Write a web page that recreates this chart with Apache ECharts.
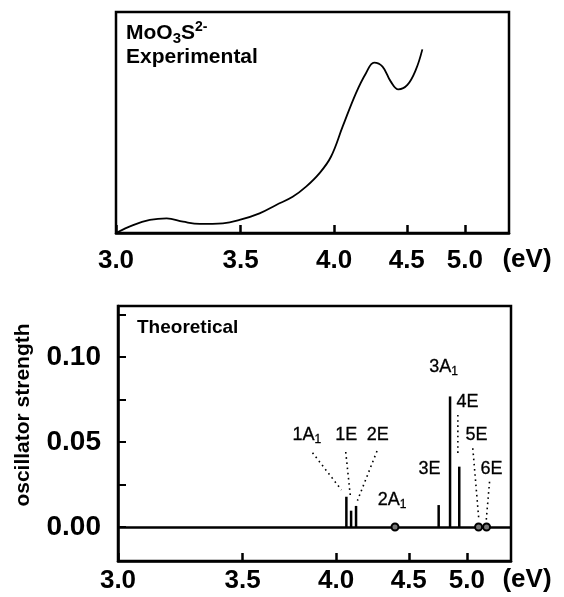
<!DOCTYPE html>
<html>
<head>
<meta charset="utf-8">
<script src="https://cdn.jsdelivr.net/npm/echarts@6/dist/echarts.min.js"></script>
<style>
  html, body { margin: 0; padding: 0; background: #fff; }
  #chart { width: 564px; height: 597px; }
</style>
</head>
<body>
<div id="chart"></div>
<script>
// ---- data ----
const HC = 1240; // eV*nm, the axis is linear in wavelength
const tickEV = [3.0, 3.5, 4.0, 4.5, 5.0];
const axisEV = [3.0, 5.46];

// experimental absorption (arbitrary units)
const expEV  = [3.000, 3.060, 3.121, 3.185, 3.250, 3.319, 3.419, 3.495, 3.591, 3.675, 3.762, 3.836,
                3.912, 3.981, 4.053, 4.138, 4.205, 4.261, 4.320, 4.380, 4.436, 4.505, 4.571, 4.624];
const expAbs = [0.000, 0.036, 0.059, 0.066, 0.051, 0.041, 0.044, 0.059, 0.089, 0.127, 0.164, 0.210,
                0.270, 0.345, 0.481, 0.632, 0.723, 0.771, 0.753, 0.685, 0.650, 0.670, 0.738, 0.831];

// theoretical oscillator strengths
const stickNames = ['1A₁', '1E', '2E', '3E', '3A₁', '4E'];
const stickEV    = [4.064, 4.094, 4.126, 4.744, 4.844, 4.928];
const stickF     = [0.0178, 0.0096, 0.0124, 0.0129, 0.0768, 0.0355];
const darkNames  = ['2A₁', '5E', '6E'];
const darkEV     = [4.396, 5.114, 5.195];
const darkF      = [0, 0, 0];

// state labels (anchor in eV / oscillator-strength units)
const labelText = ['1A₁', '1E', '2E', '2A₁', '3E', '3A₁', '4E', '5E', '6E'];
const labelEV   = [3.829, 4.064, 4.272, 4.375, 4.667, 4.787, 5.006, 5.094, 5.247];
const labelF    = [0.0541, 0.0541, 0.0541, 0.0159, 0.0341, 0.0941, 0.0735, 0.0541, 0.0341];

// dotted leader lines
const leaderFromEV = [3.861, 4.060, 4.267, 4.915, 5.057, 5.226];
const leaderFromF  = [0.0437, 0.0441, 0.0447, 0.0659, 0.0463, 0.0266];
const leaderToEV   = [4.033, 4.090, 4.135, 4.915, 5.117, 5.192];
const leaderToF    = [0.0218, 0.0176, 0.0155, 0.0414, 0.0041, 0.0041];

const yTicks  = [0, 0.025, 0.05, 0.075, 0.10, 0.125];
const yLabels = [0, 0.05, 0.10];
const yRange  = [-0.02, 0.13];

// ---- chart ----
const FONT = 'Liberation Sans, Arial, Helvetica, sans-serif';
const nm = e => HC / e;
const tickNm = tickEV.map(nm);

function xAxisFor(gi, labelMargin) {
  return {
    type: 'value', gridIndex: gi, inverse: true,
    min: nm(axisEV[1]), max: nm(axisEV[0]),
    axisLine: { show: true, onZero: false, lineStyle: { color: '#000', width: 2.5 } },
    axisTick: { show: true, inside: true, length: 8, customValues: tickNm,
                lineStyle: { color: '#000', width: 2.5 } },
    axisLabel: { show: true, customValues: tickNm, margin: labelMargin,
                 formatter: v => (HC / v).toFixed(1),
                 fontFamily: FONT, fontWeight: 'bold', fontSize: 26, color: '#000' },
    splitLine: { show: false }
  };
}

const labelRich = {
  m: { fontFamily: FONT, fontSize: 18, color: '#000', lineHeight: 21, textBorderColor: '#000', textBorderWidth: 0.3 },
  s: { fontFamily: FONT, fontSize: 12, color: '#000', lineHeight: 12, padding: [9, 0, 0, 0], verticalAlign: 'bottom',
       textBorderColor: '#000', textBorderWidth: 0.3 }
};
function richLabel(t) {
  return t.split('₁').map((p, i, a) => (p ? '{m|' + p + '}' : '') + (i < a.length - 1 ? '{s|1}' : '')).join('');
}

const series = [
  {
    type: 'line', xAxisIndex: 0, yAxisIndex: 0,
    data: expEV.map((e, i) => [nm(e), expAbs[i]]),
    smooth: 0.4, showSymbol: false, silent: true,
    lineStyle: { color: '#000', width: 1.8 }
  },
  {
    type: 'bar', xAxisIndex: 1, yAxisIndex: 1,
    data: stickEV.map((e, i) => ({ value: [nm(e), stickF[i]], name: stickNames[i] })),
    barWidth: 2.5, itemStyle: { color: '#000' }, silent: true,
    markLine: {
      silent: true, symbol: ['none', 'none'], label: { show: false },
      lineStyle: { color: '#000', width: 2.5, type: 'solid' },
      data: [{ yAxis: 0 }]
    }
  },
  {
    type: 'scatter', xAxisIndex: 1, yAxisIndex: 1,
    data: darkEV.map((e, i) => ({ value: [nm(e), darkF[i]], name: darkNames[i] })),
    symbol: 'circle', symbolSize: 7, silent: true, z: 5,
    itemStyle: { color: '#777', borderColor: '#000', borderWidth: 2, opacity: 1 }
  },
  {
    type: 'scatter', xAxisIndex: 1, yAxisIndex: 1,
    data: labelEV.map((e, i) => ({ value: [nm(e), labelF[i]], name: labelText[i] })),
    symbolSize: 0, silent: true, itemStyle: { opacity: 1 },
    label: { show: true, position: 'inside', color: '#000',
             formatter: p => richLabel(p.name), rich: labelRich }
  }
];
leaderFromEV.forEach((e, i) => {
  series.push({
    type: 'line', xAxisIndex: 1, yAxisIndex: 1, silent: true, showSymbol: false,
    data: [[nm(e), leaderFromF[i]], [nm(leaderToEV[i]), leaderToF[i]]],
    lineStyle: { color: '#000', width: 1.6, type: [1.6, 3.6] }
  });
});

const chart = echarts.init(document.getElementById('chart'), null, { renderer: 'canvas' });
chart.setOption({
  backgroundColor: '#fff',
  animation: false,
  grid: [
    { left: 116, right: 55, top: 12, height: 221, show: true, borderColor: '#000', borderWidth: 2.5, backgroundColor: 'transparent' },
    { left: 118, right: 53, top: 306, height: 255, show: true, borderColor: '#000', borderWidth: 2.5, backgroundColor: 'transparent' }
  ],
  xAxis: [ xAxisFor(0, 15), xAxisFor(1, 7) ],
  yAxis: [
    { type: 'value', gridIndex: 0, min: 0, max: 1, show: true,
      axisLine: { show: false }, axisTick: { show: false }, axisLabel: { show: false }, splitLine: { show: false } },
    { type: 'value', gridIndex: 1, min: yRange[0], max: yRange[1],
      axisLine: { show: true, lineStyle: { color: '#000', width: 2.5 } },
      axisTick: { show: true, inside: true, length: 8, customValues: yTicks, lineStyle: { color: '#000', width: 2 } },
      axisLabel: { show: true, customValues: yLabels, margin: 17, formatter: v => v.toFixed(2),
                   fontFamily: FONT, fontWeight: 'bold', fontSize: 28, color: '#000' },
      splitLine: { show: false } }
  ],
  graphic: [
    { type: 'text', left: 126, top: 20, silent: true,
      style: { text: '{a|MoO}{b|3}{a|S}{c|2-}', fill: '#000',
        rich: {
          a: { fontFamily: FONT, fontWeight: 'bold', fontSize: 21, lineHeight: 26 },
          b: { fontFamily: FONT, fontWeight: 'bold', fontSize: 15, lineHeight: 15, padding: [9, 0, 0, 0], verticalAlign: 'bottom' },
          c: { fontFamily: FONT, fontWeight: 'bold', fontSize: 14, lineHeight: 14, verticalAlign: 'top' }
        } } },
    { type: 'text', left: 126, top: 47, silent: true,
      style: { text: 'Experimental', fill: '#000', font: 'bold 21px ' + FONT } },
    { type: 'text', left: 137, top: 318, silent: true,
      style: { text: 'Theoretical', fill: '#000', font: 'bold 19px ' + FONT } },
    { type: 'text', x: 527, y: 260, silent: true,
      style: { text: '(eV)', fill: '#000', font: 'bold 26px ' + FONT, align: 'center', verticalAlign: 'middle' } },
    { type: 'text', x: 527, y: 580, silent: true,
      style: { text: '(eV)', fill: '#000', font: 'bold 26px ' + FONT, align: 'center', verticalAlign: 'middle' } },
    { type: 'text', x: 23, y: 415, rotation: Math.PI / 2, silent: true,
      style: { text: 'oscillator strength', fill: '#000', font: 'bold 21px ' + FONT, align: 'center', verticalAlign: 'middle' } }
  ],
  series: series
});
</script>
</body>
</html>
